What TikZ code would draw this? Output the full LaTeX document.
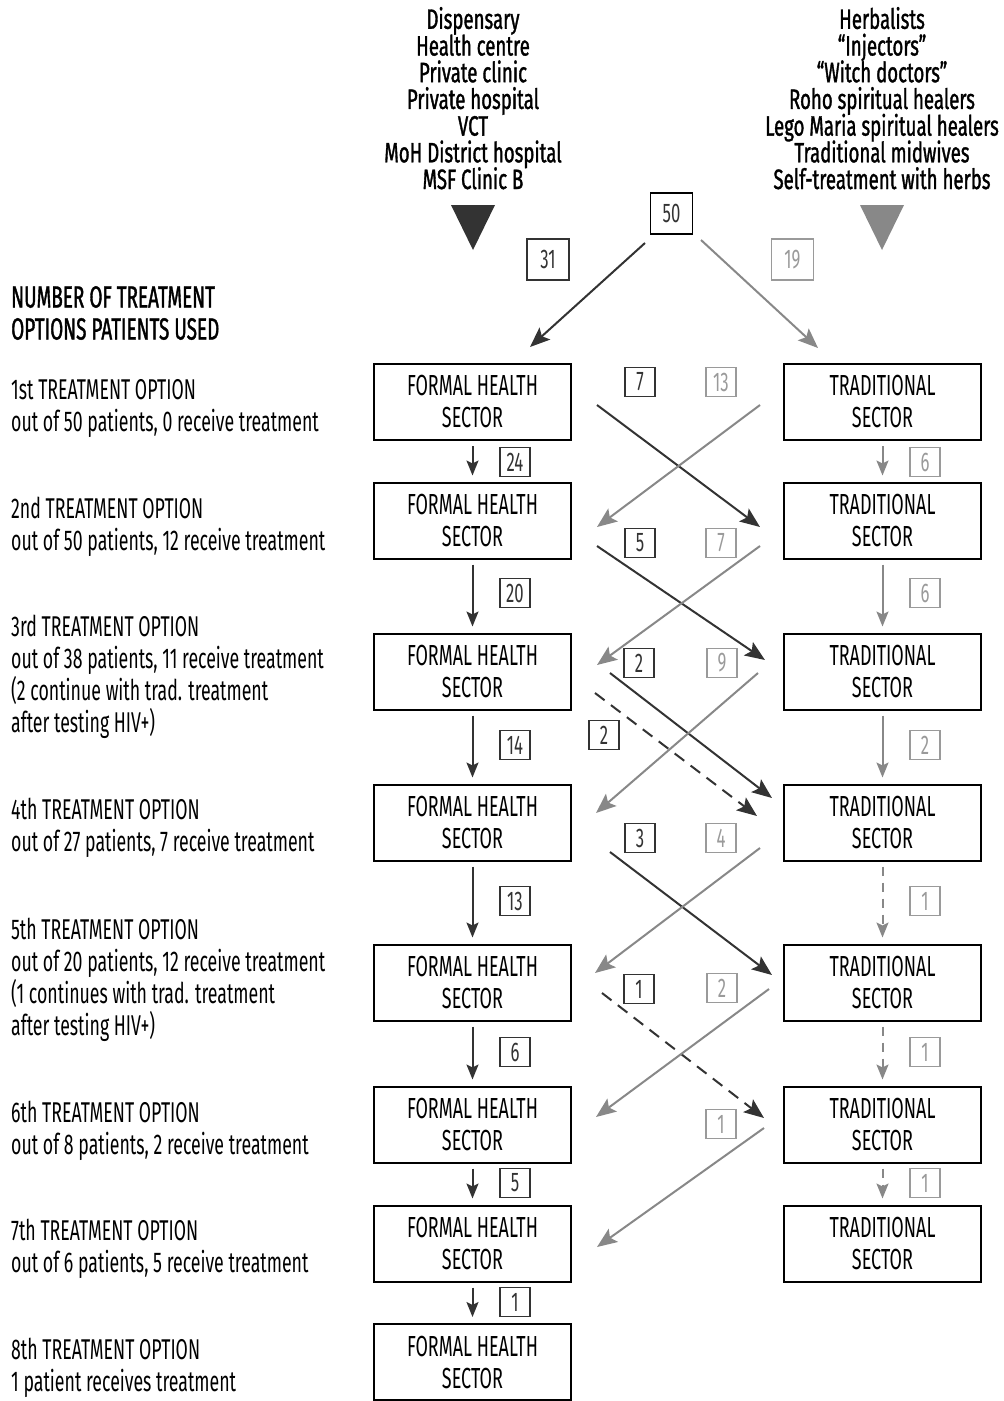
\documentclass[tikz,border=0pt]{standalone}
\usepackage{fontspec}
\setmainfont{Fira Sans}[FakeStretch=0.62]
\newfontfamily\medfont{Fira Sans}[FakeStretch=0.62, FakeBold=1.2]
\newfontfamily\headfam{Fira Sans}[FakeStretch=0.665, FakeBold=1.2]
\newcommand\myheadfont{\headfam\fontsize{28}{26.7}\selectfont\lineskiplimit=-100pt\relax\lineskip=0pt\relax}
\usetikzlibrary{arrows.meta}
\definecolor{dk}{HTML}{333333}
\definecolor{gy}{HTML}{888888}
\definecolor{lgy}{HTML}{9A9A9A}
\begin{document}
\begin{tikzpicture}[x=1pt,y=-1pt,
  sector/.style={draw=black, line width=2pt, minimum width=197pt, minimum height=76pt, align=center, inner sep=0pt, font=\fontsize{29}{32}\selectfont},
  numd/.style={draw=dk, line width=1.2pt, minimum width=30pt, minimum height=29pt, inner sep=0pt, text=dk, font=\fontsize{27}{27}\selectfont},
  numg/.style={numd, draw=lgy, text=lgy},
  numbig/.style={minimum width=42pt, minimum height=41pt},
  darr/.style={draw=dk, line width=2pt, -{Stealth[length=20pt,width=16pt,inset=4pt]}},
  garr/.style={draw=gy, line width=2pt, -{Stealth[length=20pt,width=16pt,inset=4pt]}},
  vdarr/.style={draw=dk, line width=2pt, -{Stealth[length=15pt,width=12pt,inset=3pt]}, shorten <=5pt, shorten >=6pt},
  vgarr/.style={draw=gy, line width=2pt, -{Stealth[length=15pt,width=12pt,inset=3pt]}, shorten <=5pt, shorten >=6pt},
  dashpat/.style={dash pattern=on 12pt off 8pt},
  vdashpat/.style={dash pattern=on 9pt off 7pt},
  lefttxt/.style={anchor=base west, align=left, inner sep=0pt, font=\fontsize{28.6}{32}\selectfont},
  headtxt/.style={anchor=base, align=center, inner sep=0pt, font=\myheadfont}
]
\useasboundingbox (0,0) rectangle (1004,1401);

% header lists (anchor = baseline of last line)
\node[headtxt] (hf) at (473,189) {Dispensary\\Health centre\\Private clinic\\Private hospital\\VCT\\MoH District hospital\\MSF Clinic B};
\node[headtxt] (ht) at (882,189) {Herbalists\\“Injectors”\\“Witch doctors”\\Roho spiritual healers\\Lego Maria spiritual healers\\Traditional midwives\\Self-treatment with herbs};
\fill[dk] (451,205) -- (495,205) -- (473,250) -- cycle;
\fill[gy] (860,205) -- (904,205) -- (882,250) -- cycle;

% left texts (anchor = baseline of last line)
\node[lefttxt, font=\medfont\fontsize{30.5}{32}\selectfont] (l0) at (11,339.5) {NUMBER OF TREATMENT\\OPTIONS PATIENTS USED};
\node[lefttxt] (l1) at (11,431.5) {1st TREATMENT OPTION\\out of 50 patients, 0 receive treatment};
\node[lefttxt] (l2) at (11,550.5) {2nd TREATMENT OPTION\\out of 50 patients, 12 receive treatment};
\node[lefttxt] (l3) at (11,732.5) {3rd TREATMENT OPTION\\out of 38 patients, 11 receive treatment\\(2 continue with trad. treatment\\after testing HIV+)};
\node[lefttxt] (l4) at (11,851.5) {4th TREATMENT OPTION\\out of 27 patients, 7 receive treatment};
\node[lefttxt] (l5) at (11,1035.5) {5th TREATMENT OPTION\\out of 20 patients, 12 receive treatment\\(1 continues with trad. treatment\\after testing HIV+)};
\node[lefttxt] (l6) at (11,1154.5) {6th TREATMENT OPTION\\out of 8 patients, 2 receive treatment};
\node[lefttxt] (l7) at (11,1272.5) {7th TREATMENT OPTION\\out of 6 patients, 5 receive treatment};
\node[lefttxt] (l8) at (11,1391.5) {8th TREATMENT OPTION\\1 patient receives treatment};

% sector boxes
\foreach \n/\y in {1/402,2/520.5,3/671.5,4/822.5,5/982.5,6/1124.5,7/1243.5,8/1362}{
  \node[sector] (F\n) at (472.5,\y) {FORMAL HEALTH\\SECTOR};
}
\foreach \n/\y in {1/402,2/520.5,3/671.5,4/822.5,5/982.5,6/1124.5,7/1243.5}{
  \node[sector] (T\n) at (882.5,\y) {TRADITIONAL\\SECTOR};
}

% top numbers
\node[numd, numbig, draw=black] (n50) at (671.5,213.5) {50};
\node[numd, numbig] (n31) at (548,259.5) {31};
\node[numg, numbig] (n19) at (792.5,259.5) {19};
\coordinate (s50l) at (645,243); \coordinate (e50l) at (530,347);
\coordinate (s50r) at (701,240); \coordinate (e50r) at (818,348);
\draw[darr] (s50l) -- (e50l);
\draw[garr] (s50r) -- (e50r);

% vertical formal arrows
\foreach \a/\b in {1/2,2/3,3/4,4/5,5/6,6/7,7/8}{
  \draw[vdarr] (F\a.south) -- (F\b.north);
}
\draw[vgarr] (T1.south) -- (T2.north);
\draw[vgarr] (T2.south) -- (T3.north);
\draw[vgarr] (T3.south) -- (T4.north);
\draw[vgarr, vdashpat] (T4.south) -- (T5.north);
\draw[vgarr, vdashpat] (T5.south) -- (T6.north);
\draw[vgarr, vdashpat] (T6.south) -- (T7.north);

% vertical labels
\foreach \t/\y [count=\i] in {24/462,20/593,14/745,13/901,6/1052,5/1183,1/1302}{
  \node[numd] (vf\i) at (515,\y) {\t};
}
\foreach \t/\y [count=\i] in {6/462,6/593,2/745,1/901,1/1052,1/1183}{
  \node[numg] (vt\i) at (925,\y) {\t};
}

% diagonal coordinates
\coordinate (a1) at (597,405); \coordinate (b1) at (760,527);
\coordinate (c1) at (760,405); \coordinate (d1) at (597,527);
\coordinate (a2) at (597,546); \coordinate (b2) at (765,660);
\coordinate (c2) at (760,546); \coordinate (d2) at (597,665);
\coordinate (a3) at (610,673); \coordinate (b3) at (772,798);
\coordinate (c3) at (758,673); \coordinate (d3) at (596,813);
\coordinate (e3) at (595,693); \coordinate (f3) at (757,816);
\coordinate (a4) at (610,852); \coordinate (b4) at (772,975);
\coordinate (c4) at (760,848); \coordinate (d4) at (595,973);
\coordinate (e5) at (602,993); \coordinate (f5) at (764,1118);
\coordinate (c5) at (769,989); \coordinate (d5) at (596,1117);
\coordinate (c6) at (764,1128); \coordinate (d6) at (597,1247);

\draw[darr] (a1) -- (b1);
\draw[garr] (c1) -- (d1);
\draw[darr] (a2) -- (b2);
\draw[garr] (c2) -- (d2);
\draw[darr] (a3) -- (b3);
\draw[garr] (c3) -- (d3);
\draw[darr, dashpat] (e3) -- (f3);
\draw[darr] (a4) -- (b4);
\draw[garr] (c4) -- (d4);
\draw[darr, dashpat] (e5) -- (f5);
\draw[garr] (c5) -- (d5);
\draw[garr] (c6) -- (d6);

% diagonal labels
\node[numd] (x1) at (640,382) {7};
\node[numg] (y1) at (721,382) {13};
\node[numd] (x2) at (640,543) {5};
\node[numg] (y2) at (721,543) {7};
\node[numd] (x3) at (639,663) {2};
\node[numg] (y3) at (722,663) {9};
\node[numd] (z3) at (604,735) {2};
\node[numd] (x4) at (640,838) {3};
\node[numg] (y4) at (721,838) {4};
\node[numd] (x5) at (639,989) {1};
\node[numg] (y5) at (722,988) {2};
\node[numg] (y6) at (721,1124) {1};
\end{tikzpicture}
\end{document}
